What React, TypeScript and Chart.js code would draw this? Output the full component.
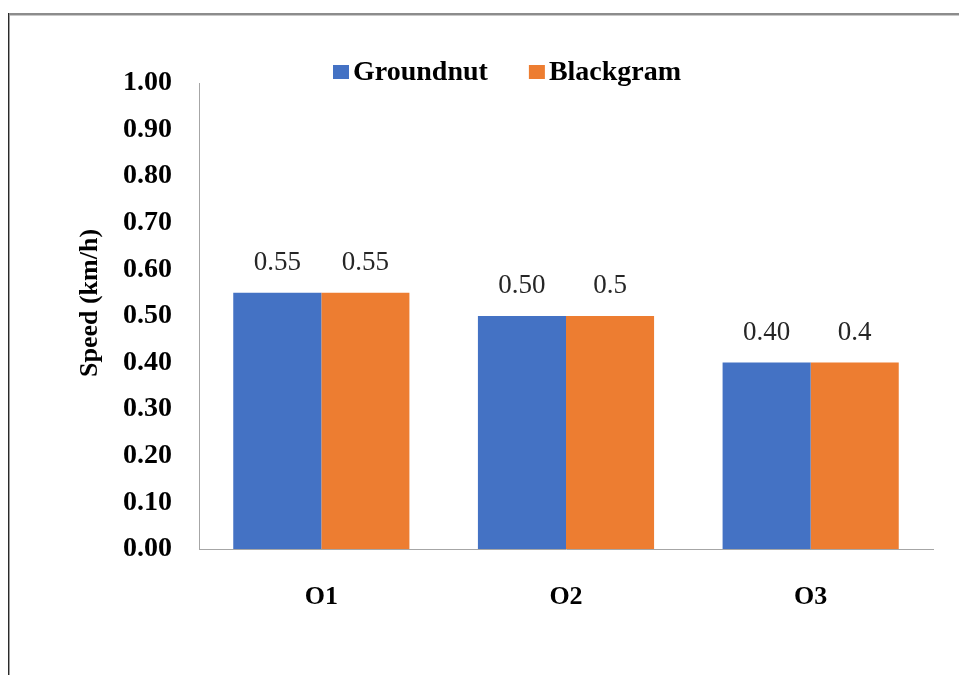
import React, { useEffect, useRef } from "react";
import { Chart, registerables } from "chart.js";

Chart.register(...registerables);

const categories = ["O1", "O2", "O3"];
const groundnut = [0.55, 0.5, 0.4];
const blackgram = [0.55, 0.5, 0.4];
const yTicks = [0, 0.1, 0.2, 0.3, 0.4, 0.5, 0.6, 0.7, 0.8, 0.9, 1.0];
const seriesNames = ["Groundnut", "Blackgram"];
const seriesColors = ["#4472C4", "#ED7D31"];
const yAxisTitle = "Speed (km/h)";

const SERIF = '"Liberation Serif", "Times New Roman", serif';

const framePlugin = {
  id: "frame",
  beforeDraw(chart: any) {
    const ctx = chart.ctx;
    ctx.save();
    ctx.fillStyle = "#ffffff";
    ctx.fillRect(0, 0, chart.width, chart.height);
    ctx.fillStyle = "#8c8c8c";
    ctx.fillRect(8, 13, chart.width - 8, 2);
    ctx.fillStyle = "#c8c8c8";
    ctx.fillRect(10, 15, chart.width - 10, 1);
    ctx.fillStyle = "#2a2a2a";
    ctx.fillRect(8, 13, 1, chart.height - 13);
    ctx.fillStyle = "#a0a0a0";
    ctx.fillRect(9, 15, 1, chart.height - 15);
    ctx.restore();
  },
};

const legendPlugin = {
  id: "customLegend",
  afterDraw(chart: any) {
    const ctx = chart.ctx;
    ctx.save();
    ctx.font = `bold 28px ${SERIF}`;
    ctx.textBaseline = "middle";
    ctx.textAlign = "left";
    let x = 333;
    const cy = 72;
    chart.data.datasets.forEach((ds: any) => {
      ctx.fillStyle = ds.backgroundColor;
      ctx.fillRect(x, cy - 7, 16, 14);
      ctx.fillStyle = "#000000";
      ctx.fillText(ds.label, x + 20, cy + 1);
      x += 20 + ctx.measureText(ds.label).width + 41;
    });
    ctx.restore();
  },
};

const axisTitlePlugin = {
  id: "axisTitle",
  afterDraw(chart: any) {
    const ctx = chart.ctx;
    ctx.save();
    ctx.font = `bold 26px ${SERIF}`;
    ctx.fillStyle = "#000000";
    ctx.textAlign = "center";
    ctx.textBaseline = "middle";
    ctx.translate(90, 303);
    ctx.rotate(-Math.PI / 2);
    ctx.fillText(yAxisTitle, 0, 0);
    ctx.restore();
  },
};

const valueLabelPlugin = {
  id: "valueLabels",
  afterDatasetsDraw(chart: any) {
    const ctx = chart.ctx;
    ctx.save();
    ctx.font = `27px ${SERIF}`;
    ctx.fillStyle = "#262626";
    ctx.textAlign = "center";
    ctx.textBaseline = "middle";
    chart.data.datasets.forEach((ds: any, di: number) => {
      const meta = chart.getDatasetMeta(di);
      meta.data.forEach((bar: any, i: number) => {
        const v = ds.data[i];
        const txt = di === 0 ? v.toFixed(2) : String(v);
        ctx.fillText(txt, bar.x, bar.y - 30);
      });
    });
    ctx.restore();
  },
};

export default function App() {
  const canvasRef = useRef<HTMLCanvasElement | null>(null);

  useEffect(() => {
    if (!canvasRef.current) return;
    const chart = new Chart(canvasRef.current, {
      type: "bar",
      data: {
        labels: categories,
        datasets: [
          {
            label: seriesNames[0],
            data: groundnut,
            backgroundColor: seriesColors[0],
            barPercentage: 1,
            categoryPercentage: 0.72,
          },
          {
            label: seriesNames[1],
            data: blackgram,
            backgroundColor: seriesColors[1],
            barPercentage: 1,
            categoryPercentage: 0.72,
          },
        ],
      },
      options: {
        animation: false,
        responsive: false,
        maintainAspectRatio: false,
        layout: { padding: { left: 74, top: 83, right: 26, bottom: 0 } },
        plugins: {
          legend: { display: false },
          tooltip: { enabled: false },
        },
        scales: {
          x: {
            grid: { display: false, drawTicks: false },
            border: { display: true, color: "#a6a6a6", width: 1 },
            ticks: {
              color: "#000000",
              font: { family: SERIF, size: 26, weight: "bold" },
              padding: 33,
            },
            afterFit(scale: any) {
              scale.height = 675 - 549;
            },
          },
          y: {
            min: 0,
            max: 1,
            afterBuildTicks(scale: any) {
              scale.ticks = yTicks.map((v) => ({ value: v }));
            },
            grid: { display: false, drawTicks: false },
            border: { display: true, color: "#a6a6a6", width: 1 },
            ticks: {
              color: "#000000",
              font: { family: SERIF, size: 28, weight: "bold" },
              padding: 27,
              callback: (v: any) => Number(v).toFixed(2),
            },
            title: { display: false },
            afterFit(scale: any) {
              scale.width = 199 - 74;
            },
          },
        },
      },
      plugins: [framePlugin, legendPlugin, axisTitlePlugin, valueLabelPlugin],
    } as any);
    return () => chart.destroy();
  }, []);

  return (
    <div style={{ position: "absolute", left: 0, top: 0, width: 959, height: 675 }}>
      <canvas ref={canvasRef} width={959} height={675} style={{ width: 959, height: 675, display: "block" }} />
    </div>
  );
}
